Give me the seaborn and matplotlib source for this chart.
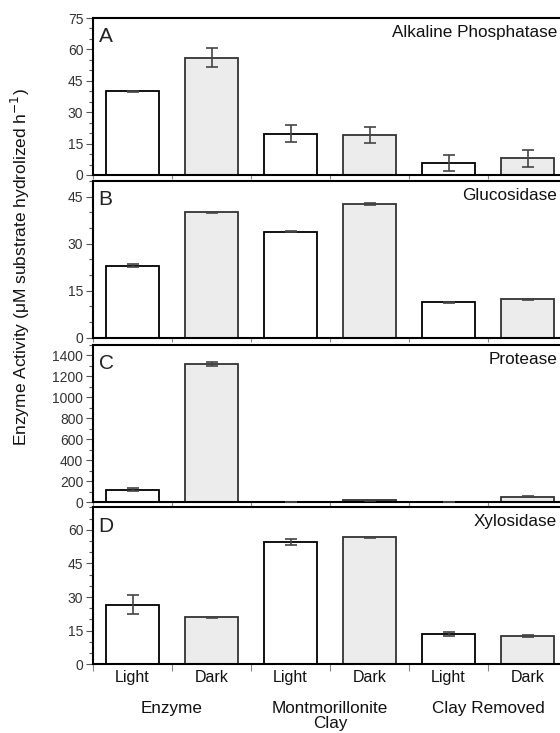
import matplotlib
matplotlib.use("Agg")
import matplotlib.pyplot as plt
import seaborn as sns
import pandas as pd
from matplotlib.ticker import MultipleLocator, FixedLocator

# bar order: Enzyme (Light, Dark), Montmorillonite Clay (Light, Dark), Clay Removed (Light, Dark)
bar_ids = ["E-L", "E-D", "M-L", "M-D", "C-L", "C-D"]
light_dark = ["Light", "Dark", "Light", "Dark", "Light", "Dark"]
groups = ["Enzyme", "Montmorillonite\nClay", "Clay Removed"]

enzymes = ["Alkaline Phosphatase", "Glucosidase", "Protease", "Xylosidase"]
letters = ["A", "B", "C", "D"]

alk_phos = [40, 56, 19.7, 19, 5.6, 8]
alk_phos_err = [0.3, 4.5, 4, 3.7, 3.8, 4.1]
glucosidase = [23, 40, 33.8, 42.6, 11.3, 12.2]
glucosidase_err = [0.5, 0.2, 0.2, 0.3, 0.2, 0.2]
protease = [118, 1320, 2, 20, 3, 54]
protease_err = [15, 20, 2, 6, 1, 6]
xylosidase = [26.6, 20.9, 54.6, 56.6, 13.5, 12.7]
xylosidase_err = [4.3, 0.3, 1.2, 0.2, 1, 0.5]

values = [alk_phos, glucosidase, protease, xylosidase]
errors = [alk_phos_err, glucosidase_err, protease_err, xylosidase_err]
ylims = [75, 50, 1500, 70]
major_steps = [15, 15, 200, 15]
minor_steps = [5, 5, 100, 5]
major_tops = [75, 45, 1400, 60]

sns.set_style("white")
plt.rcParams["font.family"] = ["Liberation Sans", "DejaVu Sans"]

fig = plt.figure(figsize=(5.6, 7.33), dpi=100)
left, width = 93 / 560, 474 / 560
tops = [18, 181, 345, 507.3]
bottoms = [175, 337.5, 502.3, 664.3]

palette = {b: ("white" if ld == "Light" else "#ececec") for b, ld in zip(bar_ids, light_dark)}

for i in range(4):
    ax = fig.add_axes([left, 1 - bottoms[i] / 733, width, (bottoms[i] - tops[i]) / 733])
    df = pd.DataFrame({"bar": bar_ids, "value": values[i], "err": errors[i]})
    sns.barplot(data=df, x="bar", y="value", hue="bar", palette=palette, order=bar_ids,
                hue_order=bar_ids, width=0.67, legend=False, edgecolor="black",
                linewidth=1.3, errorbar=None, ax=ax, saturation=1)
    for p, ld in zip(ax.patches, light_dark):
        if ld == "Dark":
            p.set_edgecolor("#333333")
    ax.errorbar(range(6), df["value"], yerr=df["err"], fmt="none", ecolor="#444444",
                elinewidth=1.2, capsize=4, capthick=1.2, zorder=5)

    ax.set_xlim(-0.5, 5.5)
    ax.set_ylim(0, ylims[i])
    ax.yaxis.set_major_locator(FixedLocator(list(range(0, major_tops[i] + 1, major_steps[i]))))
    ax.yaxis.set_minor_locator(MultipleLocator(minor_steps[i]))
    ax.set_xlabel("")
    ax.set_ylabel("")
    for s in ax.spines.values():
        s.set_color("black")
        s.set_linewidth(1.5)
    ax.tick_params(axis="y", which="major", direction="out", length=5, width=0.8,
                   color="#555555", labelsize=10, labelcolor="#333333", left=True, pad=2)
    ax.tick_params(axis="y", which="minor", direction="out", length=3, width=0.8,
                   color="#555555", left=True)
    if i < 3:
        ax.set_xticks([])
    else:
        ax.set_xticks(range(6))
        ax.set_xticklabels(light_dark, fontsize=11.5, color="#111111")
        ax.tick_params(axis="x", which="major", length=0, pad=4)
        for j, g in enumerate(groups):
            ax.text(0.5 + 2 * j, -0.235, g, transform=ax.get_xaxis_transform(),
                    ha="center", va="top", fontsize=12.3, color="#111111", linespacing=1.0)
    ax.set_xticks([-0.5, 0.5, 1.5, 2.5, 3.5, 4.5], minor=True)
    ax.tick_params(axis="x", which="minor", direction="out", length=5 if i == 3 else 3,
                   width=0.8, color="#888888", bottom=True)

    ax.text(0.012, 0.94, letters[i], transform=ax.transAxes, ha="left", va="top",
            fontsize=15, color="#222222")
    ax.text(0.979, 0.955, enzymes[i], transform=ax.transAxes, ha="right", va="top",
            fontsize=12.3, color="#111111")

fig.text(0.036, 1 - 267 / 733, "Enzyme Activity (\u03bcM substrate hydrolized h$^{-1}$)",
         rotation=90, ha="center", va="center", fontsize=12.5, color="#111111")

fig.savefig("out.png", dpi=100)
